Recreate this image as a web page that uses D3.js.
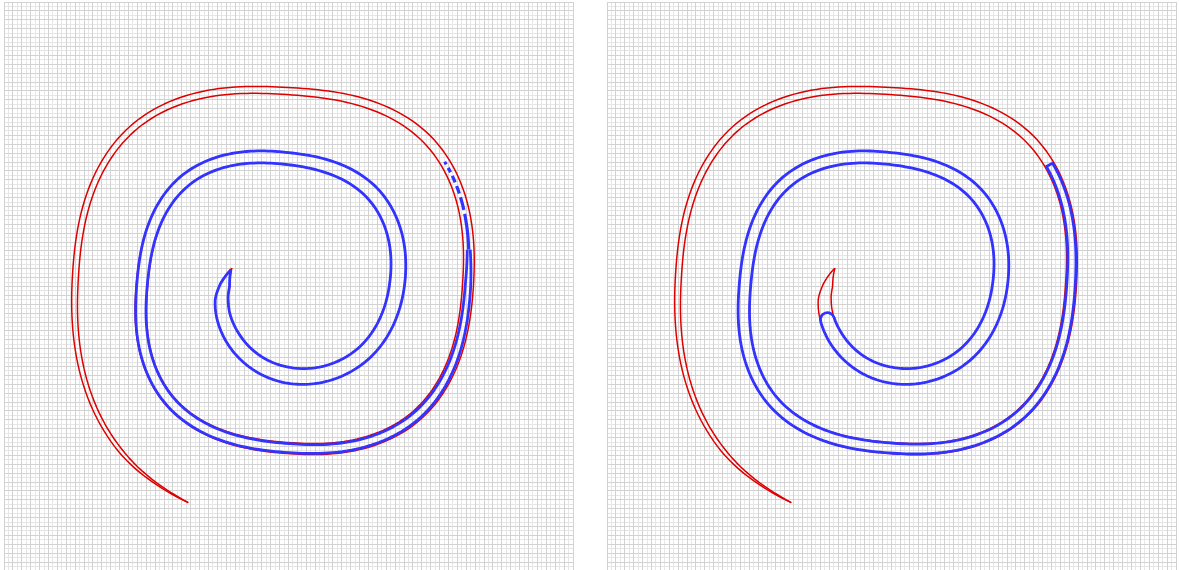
<!DOCTYPE html>
<html><head><meta charset="utf-8">
<script src="https://cdn.jsdelivr.net/npm/d3@7"></script>
<style>html,body{margin:0;padding:0;background:#fff;} svg{display:block}</style>
</head><body>
<svg id="c" width="1179" height="570"></svg>
<script>
// ---- data (panel-local units, 0..569) ----
const panelOffsets = [4, 607];
const gridCount = 128;
const spiralCenter = [283, 283];

// spiral centre line: screen angle (deg, y down) -> radius
const spiralAngle  = [197, 180, 167, 135, 90, 45, 0, -45, -90, -135, -180, -225, -270, -315, -360, -405, -450, -495, -540, -585, -605.6];
const spiralRadius = [57.6, 62, 67, 76, 90, 102, 110, 125, 126.5, 146, 145, 165, 163, 184, 181, 202, 194, 220, 212, 235, 239];

// red band width along the spiral
const redAngle = spiralAngle;
const redWidth = [0, 9.5, 13, 15, 16, 15, 15, 14, 12, 12, 11.5, 11, 11, 11, 11, 9.5, 7, 6.5, 6, 4, 0];

// left panel blue band
const blueLeftAngle = [195, 180, 167, 135, 90, 45, 0, -45, -90, -135, -180, -225, -270, -315, -360, -371];
const blueLeftWidth = [0, 9.5, 13, 15, 16, 15, 15, 14, 12, 12, 10.5, 10, 9, 8, 5.5, 3];
const blueTailAngle = [-398, -371];
const tailDashes = [3, 4, 5, 4, 7, 4, 8, 4, 13, 4, 40, 4];

// right panel blue band
const blueRightAngle = [151, 135, 90, 45, 0, -45, -90, -135, -180, -225, -270, -315, -360, -397];
const blueRightWidth = [14, 15, 16, 15, 15, 14, 12, 12, 11.5, 11, 10, 9.5, 8.5, 7];

const RED = "#dd0000", BLUE = "#3333ff";

// ---- helpers (smooth polar rendering of the readings) ----
function hermite(xs, ys, x){
  const n = xs.length;
  let i = 0;
  while (i < n-2 && !((x <= xs[i] && x >= xs[i+1]))) i++;
  const x0 = xs[i], x1 = xs[i+1], h = x1 - x0;
  const t = h === 0 ? 0 : (x - x0)/h;
  const slope = k => {
    const a = Math.max(k-1,0), b = Math.min(k+1,n-1);
    return (ys[b]-ys[a])/(xs[b]-xs[a]);
  };
  const m0 = slope(i)*h, m1 = slope(i+1)*h;
  const t2=t*t, t3=t2*t;
  return (2*t3-3*t2+1)*ys[i] + (t3-2*t2+t)*m0 + (-2*t3+3*t2)*ys[i+1] + (t3-t2)*m1;
}
function linear(xs, ys, x){
  const n = xs.length; let i = 0;
  while (i < n-2 && !((x <= xs[i] && x >= xs[i+1]))) i++;
  const t = (x - xs[i])/(xs[i+1]-xs[i]);
  return ys[i] + t*(ys[i+1]-ys[i]);
}
function centre(phi){
  const r = hermite(spiralAngle, spiralRadius, phi), a = phi*Math.PI/180;
  return [spiralCenter[0] + r*Math.cos(a), spiralCenter[1] + r*Math.sin(a)];
}
function sample(a0, a1){
  const out = [], n = Math.max(2, Math.ceil(Math.abs(a1-a0)/1.5));
  for (let k=0;k<=n;k++) out.push(a0 + (a1-a0)*k/n);
  return out;
}
function band(angles, widths){
  const phis = sample(angles[0], angles[angles.length-1]);
  const pts = phis.map(centre);
  const A=[], B=[], n=pts.length;
  pts.forEach((p,i)=>{
    const q0 = pts[Math.max(i-1,0)], q1 = pts[Math.min(i+1,n-1)];
    let tx=q1[0]-q0[0], ty=q1[1]-q0[1]; const L=Math.hypot(tx,ty)||1; tx/=L; ty/=L;
    const h = linear(angles, widths, phis[i])/2;
    A.push([p[0]-ty*h, p[1]+tx*h]); B.push([p[0]+ty*h, p[1]-tx*h]);
  });
  return {A, B, pts};
}

// ---- drawing ----
const svg = d3.select("#c");
panelOffsets.forEach((off, pi) => {
  const x = d3.scaleLinear().domain([0,569]).range([off, off+569]);
  const y = d3.scaleLinear().domain([0,569]).range([2, 571]);
  const g = svg.append("g");
  const ticks = d3.range(0, gridCount+1).map(i => i*569/gridCount);
  const minor = ticks.filter((d,i)=>i%2), major = ticks.filter((d,i)=>!(i%2));
  [[minor,"#e6e6e6"],[major,"#d2d2d2"]].forEach(([tk,col])=>{
    g.append("g").selectAll("line").data(tk).join("line")
      .attr("x1",d=>x(d)).attr("x2",d=>x(d)).attr("y1",y(0)).attr("y2",y(569))
      .attr("stroke",col).attr("shape-rendering","crispEdges");
    g.append("g").selectAll("line").data(tk).join("line")
      .attr("y1",d=>y(d)).attr("y2",d=>y(d)).attr("x1",x(0)).attr("x2",x(569))
      .attr("stroke",col).attr("shape-rendering","crispEdges");
  });

  const line = d3.line().x(d=>x(d[0])).y(d=>y(d[1]));
  const drawBand = (angles, widths, color, sw) => {
    const e = band(angles, widths);
    [e.A, e.B].forEach(ed => g.append("path").attr("d", line(ed))
      .attr("fill","none").attr("stroke",color).attr("stroke-width",sw).attr("stroke-linejoin","round"));
    return e;
  };
  drawBand(redAngle, redWidth, RED, 1.5);
  if (pi === 0) {
    drawBand(blueLeftAngle, blueLeftWidth, BLUE, 2.8);
    const tail = sample(blueTailAngle[0], blueTailAngle[1]).map(centre);
    g.append("path").attr("d", line(tail)).attr("fill","none")
      .attr("stroke",BLUE).attr("stroke-width",3.2).attr("stroke-dasharray",tailDashes.join(","));
  } else {
    const e = drawBand(blueRightAngle, blueRightWidth, BLUE, 2.8);
    const s = e.pts[0], s1 = e.pts[1];
    const th = Math.atan2(s1[1]-s[1], s1[0]-s[0]);
    const p = d3.path();
    p.arc(x(s[0]), y(s[1]), blueRightWidth[0]/2, th+Math.PI/2, th+3*Math.PI/2, false);
    g.append("path").attr("d", p.toString()).attr("fill","none").attr("stroke",BLUE).attr("stroke-width",2.8);
    const n = e.A.length-1;
    g.append("line").attr("x1",x(e.A[n][0])).attr("y1",y(e.A[n][1])).attr("x2",x(e.B[n][0])).attr("y2",y(e.B[n][1]))
      .attr("stroke",BLUE).attr("stroke-width",2.8).attr("stroke-linecap","round");
  }
});
</script>
</body></html>
